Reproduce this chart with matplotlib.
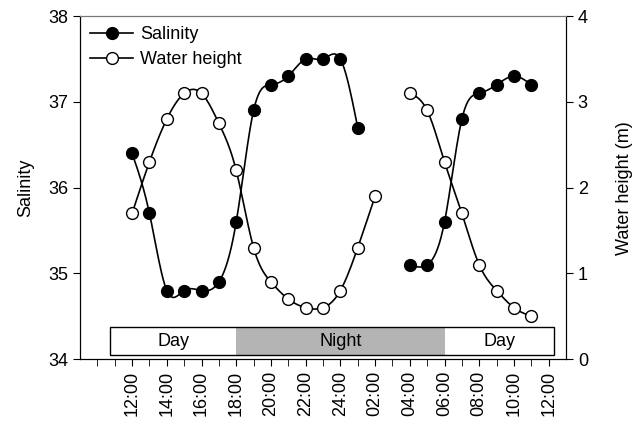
import numpy as np
import matplotlib
matplotlib.use("Agg")
import matplotlib.pyplot as plt
from matplotlib.patches import Rectangle

plt.rcParams['font.family'] = ['Liberation Sans', 'DejaVu Sans']

# hours since midnight of day 1 (24 = midnight, 36 = noon next day)
hours = list(range(12, 36))
salinity = [36.4, 35.7, 34.8, 34.8, 34.8, 34.9, 35.6, 36.9, 37.2, 37.3, 37.5, 37.5,
            37.5, 36.7, None, None, 35.1, 35.1, 35.6, 36.8, 37.1, 37.2, 37.3, 37.2]
water_height = [1.7, 2.3, 2.8, 3.1, 3.1, 2.75, 2.2, 1.3, 0.9, 0.7, 0.6, 0.6,
                0.8, 1.3, 1.9, None, 3.1, 2.9, 2.3, 1.7, 1.1, 0.8, 0.6, 0.5]

tick_hours = list(range(12, 37, 2))
tick_labels = ["12:00", "14:00", "16:00", "18:00", "20:00", "22:00", "24:00",
               "02:00", "04:00", "06:00", "08:00", "10:00", "12:00"]

# day/night bar: (start hour, end hour, label)
periods = [(10.75, 18.0, "Day"), (18.0, 30.0, "Night"), (30.0, 36.3, "Day")]


def natural_spline(x, y, n=20):
    # natural cubic spline through the points, just for drawing the line
    x = np.asarray(x, float)
    y = np.asarray(y, float)
    k = len(x)
    if k < 3:
        return x, y
    h = np.diff(x)
    A = np.zeros((k, k))
    b = np.zeros(k)
    A[0, 0] = A[-1, -1] = 1
    for i in range(1, k - 1):
        A[i, i - 1] = h[i - 1]
        A[i, i] = 2 * (h[i - 1] + h[i])
        A[i, i + 1] = h[i]
        b[i] = 3 * ((y[i + 1] - y[i]) / h[i] - (y[i] - y[i - 1]) / h[i - 1])
    c = np.linalg.solve(A, b)
    xs, ys = [], []
    for i in range(k - 1):
        t = np.linspace(0, h[i], n, endpoint=(i == k - 2))
        bi = (y[i + 1] - y[i]) / h[i] - h[i] * (2 * c[i] + c[i + 1]) / 3
        di = (c[i + 1] - c[i]) / (3 * h[i])
        xs.append(x[i] + t)
        ys.append(y[i] + bi * t + c[i] * t ** 2 + di * t ** 3)
    return np.concatenate(xs), np.concatenate(ys)


def segments(x, y):
    seg = []
    for xi, yi in zip(x, y):
        if yi is None:
            if seg:
                yield seg
            seg = []
        else:
            seg.append((xi, yi))
    if seg:
        yield seg


def draw_series(ax, x, y, face, label):
    for seg in segments(x, y):
        sx, sy = zip(*seg)
        cx, cy = natural_spline(sx, sy)
        ax.plot(cx, cy, color='black', lw=1.2, zorder=2)
        ax.plot(sx, sy, 'o', ms=8.5, mfc=face, mec='black', mew=1.0, zorder=3)
    # legend handle
    ax.plot([], [], '-o', color='black', lw=1.2, ms=8.5, mfc=face, mec='black', label=label)


fig = plt.figure(figsize=(6.39, 4.25), dpi=100)
ax = fig.add_axes([0.1252, 0.155, 0.7606, 0.807])
ax2 = ax.twinx()

ax.set_xlim(9, 37)
ax.set_ylim(34, 38)
ax2.set_ylim(0, 4)

# day / night bar
bar_lo, bar_hi = 34.05, 34.375
for start, end, label in periods:
    fc = '#b4b4b4' if label == "Night" else 'white'
    ax.add_patch(Rectangle((start, bar_lo), end - start, bar_hi - bar_lo,
                           facecolor=fc, edgecolor='none', zorder=1))
    ax.text((start + end) / 2, (bar_lo + bar_hi) / 2 - 0.01, label,
            ha='center', va='center', fontsize=13, zorder=2)
ax.add_patch(Rectangle((periods[0][0], bar_lo), periods[-1][1] - periods[0][0],
                       bar_hi - bar_lo, facecolor='none', edgecolor='black',
                       lw=1.0, zorder=2))

draw_series(ax, hours, salinity, 'black', 'Salinity')
draw_series(ax2, hours, water_height, 'white', 'Water height')
ax2.set_zorder(ax.get_zorder() + 1)

ax.set_xticks(tick_hours)
ax.set_xticklabels(tick_labels, rotation=90, fontsize=13)
ax.set_xticks(range(10, 37), minor=True)
ax.tick_params(axis='x', which='both', direction='out', length=5)
ax.set_yticks([34, 35, 36, 37, 38])
ax.tick_params(axis='y', direction='out', length=5, labelsize=13)
ax2.set_yticks([0, 1, 2, 3, 4])
ax2.tick_params(axis='y', direction='out', length=5, labelsize=13)

ax.set_ylabel("Salinity", fontsize=13, labelpad=10)
ax2.set_ylabel("Water height (m)", fontsize=13, labelpad=20)

for a in (ax, ax2):
    a.spines['top'].set_color('#777777')

h1, l1 = ax.get_legend_handles_labels()
h2, l2 = ax2.get_legend_handles_labels()
ax2.legend(h1 + h2, l1 + l2, loc='upper left', frameon=False, fontsize=13,
           handlelength=2.4, handletextpad=0.4, borderaxespad=0.15,
           labelspacing=0.45)

fig.savefig("out.png", dpi=100)
